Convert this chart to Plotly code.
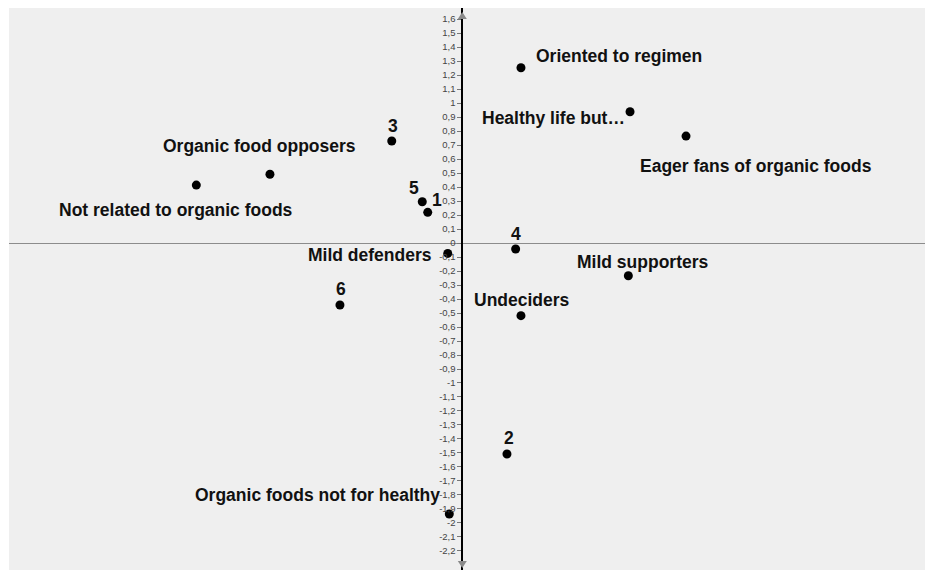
import plotly.graph_objects as go

# ---- data ----
point_names = ["Oriented to regimen", "Healthy life but…", "Eager fans of organic foods",
               "Organic food opposers", "Not related to organic foods", "Mild defenders",
               "Undeciders", "Mild supporters", "Organic foods not for healthy",
               "1", "2", "3", "4", "5", "6"]
dim1 = [0.419, 1.198, 1.598, -1.374, -1.900, -0.104, 0.419, 1.186, -0.093,
        -0.247, 0.319, -0.504, 0.381, -0.286, -0.874]
dim2 = [1.252, 0.938, 0.764, 0.491, 0.414, -0.074, -0.519, -0.234, -1.936,
        0.219, -1.507, 0.729, -0.043, 0.295, -0.443]

y_tick_values = [1.6, 1.5, 1.4, 1.3, 1.2, 1.1, 1.0, 0.9, 0.8, 0.7, 0.6, 0.5, 0.4, 0.3, 0.2, 0.1, 0.0,
                 -0.1, -0.2, -0.3, -0.4, -0.5, -0.6, -0.7, -0.8, -0.9, -1.0, -1.1, -1.2, -1.3,
                 -1.4, -1.5, -1.6, -1.7, -1.8, -1.9, -2.0, -2.1, -2.2]
y_tick_labels = ["1,6", "1,5", "1,4", "1,3", "1,2", "1,1", "1", "0,9", "0,8", "0,7", "0,6", "0,5",
                 "0,4", "0,3", "0,2", "0,1", "0", "-0,1", "-0,2", "-0,3", "-0,4", "-0,5", "-0,6",
                 "-0,7", "-0,8", "-0,9", "-1", "-1,1", "-1,2", "-1,3", "-1,4", "-1,5", "-1,6",
                 "-1,7", "-1,8", "-1,9", "-2", "-2,1", "-2,2"]

# ---- label placement (pixels relative to each point) ----
label_place = {
    "Oriented to regimen": ("left", 13, 12),
    "Healthy life but…": ("right", -3, -6),
    "Eager fans of organic foods": ("left", -48, -30),
    "Organic food opposers": ("center", -10, 28),
    "Not related to organic foods": ("center", -20, -25),
    "Mild defenders": ("right", -14, -2),
    "Undeciders": ("center", 1, 16),
    "Mild supporters": ("center", 15, 14),
    "Organic foods not for healthy": ("right", -7, 19),
    "1": ("center", 9, 12),
    "2": ("center", 2, 16),
    "3": ("center", 1, 15),
    "4": ("center", 0, 15),
    "5": ("center", -8, 14),
    "6": ("center", 1, 16),
}

FONT = "Liberation Sans, Arial, sans-serif"

fig = go.Figure()
fig.add_trace(go.Scatter(
    x=dim1, y=dim2, mode="markers",
    marker=dict(color="black", size=9),
    hoverinfo="text", text=point_names, showlegend=False,
))

annotations = []
for name, xv, yv in zip(point_names, dim1, dim2):
    xa, dx, dy = label_place[name]
    annotations.append(dict(
        x=xv, y=yv, xref="x", yref="y", text=name, showarrow=False,
        xanchor=xa, yanchor="middle", xshift=dx, yshift=dy,
        font=dict(family=FONT, size=17.5, color="#111111", weight="bold"),
    ))

shapes = [
    # arrow heads of the vertical axis
    dict(type="path", xref="x", yref="paper", xsizemode="pixel", ysizemode="pixel",
         xanchor=0, yanchor=1, path="M -4.5,-11 L 4.5,-11 L 0,-4 Z",
         fillcolor="#8a8a8a", line=dict(width=0)),
    dict(type="path", xref="x", yref="paper", xsizemode="pixel", ysizemode="pixel",
         xanchor=0, yanchor=0, path="M -4.5,9 L 4.5,9 L 0,2 Z",
         fillcolor="#8a8a8a", line=dict(width=0)),
]

x_range = [-3.238, 3.305]
y_range = [-2.336, 1.679]
y_axis_pos = (0 - x_range[0]) / (x_range[1] - x_range[0])

fig.update_layout(
    width=925, height=570,
    margin=dict(l=9, r=0, t=8, b=0),
    paper_bgcolor="white",
    plot_bgcolor="#efefef",
    annotations=annotations,
    shapes=shapes,
    xaxis=dict(range=x_range, showgrid=False, zeroline=False, showticklabels=False,
               showline=False, ticks="", automargin=False, fixedrange=True),
    yaxis=dict(range=y_range, showgrid=False, zeroline=True, zerolinecolor="#8c8c8c",
               zerolinewidth=1, showline=True, linecolor="black", linewidth=1.8,
               anchor="free", position=y_axis_pos, side="left",
               tickmode="array", tickvals=y_tick_values, ticktext=y_tick_labels,
               ticks="outside", ticklen=4, tickcolor="#777777", tickwidth=1,
               tickfont=dict(family="Liberation Sans Narrow, Arial Narrow, Liberation Sans, Arial",
                             size=9.5, color="#444444"),
               automargin=False, fixedrange=True),
)

fig.write_html("out.html",
               config={"displayModeBar": False},
               post_script="document.body.style.margin='0';document.body.style.overflow='hidden';")
